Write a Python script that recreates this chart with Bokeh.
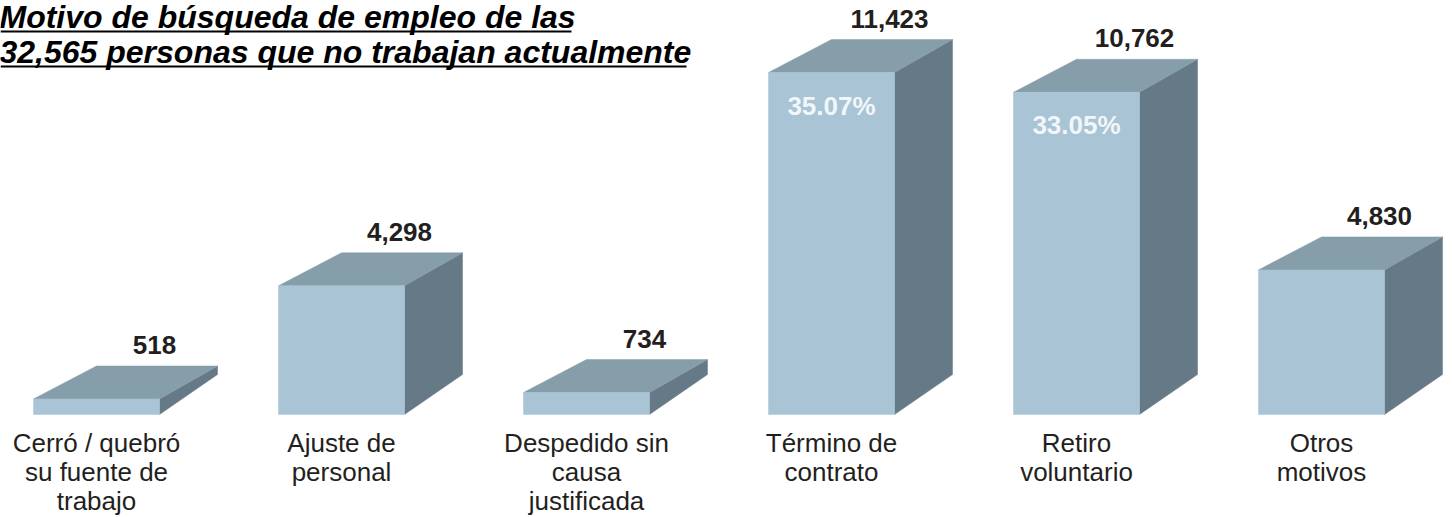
from bokeh.plotting import figure
from bokeh.models import Range1d, BoxAnnotation, ColumnDataSource
from bokeh.core.properties import value
from bokeh.embed import file_html
from bokeh.resources import INLINE

# ---- data ----
categories = ["Cerró / quebró\nsu fuente de\ntrabajo", "Ajuste de\npersonal",
              "Despedido sin\ncausa\njustificada", "Término de\ncontrato",
              "Retiro\nvoluntario", "Otros\nmotivos"]
values = [518, 4298, 734, 11423, 10762, 4830]
value_labels = ["518", "4,298", "734", "11,423", "10,762", "4,830"]
pct_labels = ["", "", "", "35.07%", "33.05%", ""]
title_lines = ["Motivo de búsqueda de empleo de las",
               "32,565 personas que no trabajan actualmente"]

# ---- layout / scale ----
W, H = 1452, 517
PX_X = 245.0            # px per category
PX_Y = 342.0 / 11423.0  # px per unit
x0_px, base_px = 96.0, 414.0
xstart = -x0_px / PX_X
xs = Range1d(xstart, xstart + W / PX_X)
ystart = -(H - base_px) / PX_Y
ys = Range1d(ystart, ystart + H / PX_Y)
TXT_CORR = 10  # text glyph baseline correction (px)

def sx(px):  # screen px (from left) -> data x
    return xstart + px / PX_X

def sy(py):  # screen px (from top) -> data y
    return ystart + (H - py) / PX_Y

p = figure(width=W, height=H, x_range=xs, y_range=ys, output_backend="svg",
           toolbar_location=None, min_border=0)
p.axis.visible = False
p.grid.visible = False
p.outline_line_color = None
p.background_fill_color = "white"
p.border_fill_color = "white"

FRONT, TOP, SIDE = "#A8C4D5", "#869DAA", "#657986"
HALF = 63 / PX_X
DXL, DXR = 63 / PX_X, 58 / PX_X
DYT, DYB = 33 / PX_Y, 40 / PX_Y

idx = list(range(len(values)))
top_xs, top_ys, side_xs, side_ys = [], [], [], []
for i, v in zip(idx, values):
    L, R = i - HALF, i + HALF
    top_xs.append([L, R, R + DXR, L + DXL])
    top_ys.append([v, v, v + DYT, v + DYT])
    side_xs.append([R, R + DXR, R + DXR, R])
    side_ys.append([0, DYB, v + DYT, v])

p.patches(side_xs, side_ys, fill_color=SIDE, line_color=SIDE, line_width=0.5)
p.patches(top_xs, top_ys, fill_color=TOP, line_color=TOP, line_width=0.5)
src = ColumnDataSource(dict(x=idx, v=values, vl=value_labels, pl=pct_labels))
p.quad(left=[i - HALF for i in idx], right=[i + HALF for i in idx],
       bottom=0, top=values, fill_color=FRONT, line_color=FRONT, line_width=0.5)

# value labels above bars
p.text(x="x", y="v", text="vl", source=src, x_offset=58, y_offset=-44 - TXT_CORR,
       text_align="center", text_baseline="alphabetic",
       text_font=value("Liberation Sans"), text_font_style="bold",
       text_font_size="26px", text_color="#231F20")
# percentages inside
p.text(x="x", y="v", text="pl", source=src, y_offset=43 - TXT_CORR,
       text_align="center", text_baseline="alphabetic",
       text_font=value("Liberation Sans"), text_font_style="bold",
       text_font_size="26px", text_color="#F2F6F9")

# category labels (split into lines)
lx, ly, lt, lo = [], [], [], []
for i, c in zip(idx, categories):
    for k, line in enumerate(c.split("\n")):
        lx.append(i); ly.append(0); lt.append(line)
        lo.append(38 + 29 * k - TXT_CORR)
p.text(x=lx, y=ly, text=lt, y_offset=lo, text_align="center",
       text_baseline="alphabetic", text_font=value("Liberation Sans"),
       text_font_size="26px", text_color="#231F20")

# title (underlined)
bases = [26, 61]
p.text(x=[sx(-1)] * 2, y=[sy(b - TXT_CORR) for b in bases], text=title_lines,
       text_align="left", text_baseline="alphabetic",
       text_font=value("Liberation Sans"), text_font_style="bold italic",
       text_font_size="32px", text_color="black")
for base, uline_w in zip(bases, [571, 686]):
    p.add_layout(BoxAnnotation(left=0, right=uline_w, bottom=H - base - 6,
                               top=H - base - 4, left_units="screen",
                               right_units="screen", bottom_units="screen",
                               top_units="screen", fill_color="black",
                               fill_alpha=1, line_alpha=0))

open("out.html", "w").write(file_html(p, INLINE))
